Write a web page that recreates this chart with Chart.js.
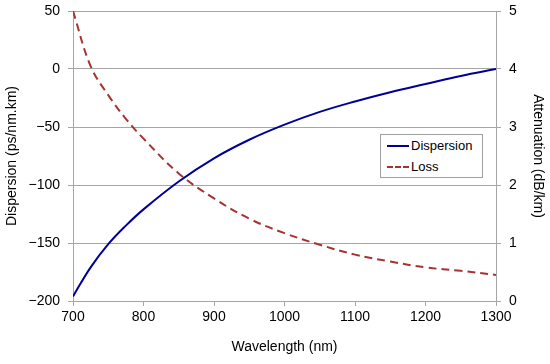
<!DOCTYPE html>
<html>
<head>
<meta charset="utf-8">
<script src="https://cdn.jsdelivr.net/npm/chart.js@4/dist/chart.umd.min.js"></script>
<style>
html,body{margin:0;padding:0;background:#fff;}
#wrap{position:relative;width:550px;height:364px;}
#legend{position:absolute;left:380px;top:134px;width:101px;height:42px;border:1px solid #a0a0a0;background:#fff;font-family:"Liberation Sans",Arial,sans-serif;font-size:13px;color:#000;}
.row{position:absolute;left:6px;height:16px;line-height:16px;white-space:nowrap;}
.sw{display:inline-block;width:22px;height:0;vertical-align:middle;margin-right:2px;position:relative;top:-1px;}
</style>
</head>
<body>
<div id="wrap">
<canvas id="c" width="550" height="364"></canvas>
<div id="legend">
  <div class="row" style="top:3px;"><span class="sw" style="border-top:2px solid #000099;"></span>Dispersion</div>
  <div class="row" style="top:24px;"><span class="sw" style="border-top:2px dashed #a83232;"></span>Loss</div>
</div>
</div>
<script>
const wavelengths = [700, 725, 750, 775, 800, 850, 900, 950, 1000, 1050, 1100, 1150, 1200, 1250, 1300];
const dispersion  = [-196, -171, -151, -135, -121, -97, -77, -61, -48, -37, -28, -20, -13, -6, 0];
const loss        = [5.0, 4.05, 3.55, 3.14, 2.8, 2.2, 1.77, 1.42, 1.17, 0.97, 0.8, 0.68, 0.58, 0.52, 0.45];
const xTicks = [700, 800, 900, 1000, 1100, 1200, 1300];

const FONT = {family: '"Liberation Sans", Arial, sans-serif', size: 14};
const GRID = '#a6a6a6';

new Chart(document.getElementById('c'), {
  type: 'line',
  data: {
    datasets: [
      {
        label: 'Dispersion',
        data: wavelengths.map((w, i) => ({x: w, y: dispersion[i]})),
        borderColor: '#000099',
        borderWidth: 2,
        pointRadius: 0,
        tension: 0.4,
        yAxisID: 'y'
      },
      {
        label: 'Loss',
        data: wavelengths.map((w, i) => ({x: w, y: loss[i]})),
        borderColor: '#a83232',
        borderWidth: 2,
        borderDash: [8, 5],
        pointRadius: 0,
        tension: 0.4,
        yAxisID: 'y1'
      }
    ]
  },
  options: {
    responsive: false,
    animation: false,
    layout: {padding: {top: 11, right: 0, bottom: 0, left: 0}},
    plugins: {legend: {display: false}, tooltip: {enabled: false}},
    scales: {
      x: {
        type: 'linear', min: 700, max: 1300,
        afterBuildTicks: s => { s.ticks = xTicks.map(v => ({value: v})); },
        afterFit: s => { s.height = 63; s.paddingLeft = 0; s.paddingRight = 0; },
        grid: {drawOnChartArea: false, color: GRID, tickLength: 5},
        border: {color: GRID},
        ticks: {color: '#000', font: FONT, padding: 3, maxRotation: 0, callback: v => String(v)},
        title: {display: true, text: 'Wavelength (nm)', color: '#000', font: FONT, padding: {top: 0, bottom: 8}}
      },
      y: {
        position: 'left', min: -200, max: 50,
        afterFit: s => { s.width = 73; s.paddingTop = 0; s.paddingBottom = 0; },
        grid: {color: GRID, tickLength: 5},
        border: {color: GRID},
        ticks: {stepSize: 50, color: '#000', font: FONT, padding: 8, callback: v => String(v).replace('-', '\u2212')},
        title: {display: true, text: 'Dispersion (ps/nm.km)', color: '#000', font: FONT, padding: {top: 4, bottom: 0}}
      },
      y1: {
        position: 'right', min: 0, max: 5,
        afterFit: s => { s.width = 54; s.paddingTop = 0; s.paddingBottom = 0; },
        grid: {drawOnChartArea: false, color: GRID, tickLength: 5},
        border: {color: GRID},
        ticks: {stepSize: 1, color: '#000', font: FONT, padding: 8},
        title: {display: true, text: 'Attenuation (dB/km)', color: '#000', font: FONT, padding: {top: 4, bottom: 0}}
      }
    }
  }
});
</script>
</body>
</html>
